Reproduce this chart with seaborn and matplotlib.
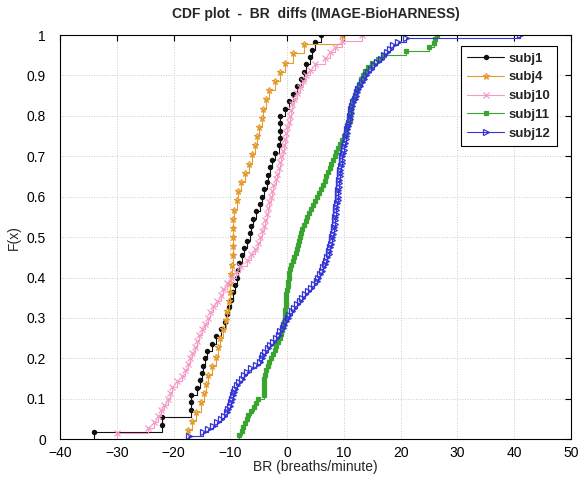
import matplotlib
matplotlib.use("Agg")
import matplotlib.pyplot as plt
import seaborn as sns
import numpy as np
import pandas as pd

# BR differences (IMAGE - BioHARNESS) per subject
subj1 = [-34, -22, -22, -17, -17, -17, -15.8, -15.4, -15.0, -14.8, -14.5, -14.1,
         -13.3, -12.5, -11.7, -11.0, -10.5, -10.2, -9.9, -9.6, -9.2, -8.9, -8.6,
         -8.4, -8.0, -7.5, -7.0, -6.6, -6.3, -6.0, -5.4, -4.8, -4.4, -4.0, -3.6,
         -3.3, -3.0, -2.6, -2.2, -1.5, -1.2, -1.2, -1.2, -1.2, -0.3, 0.4, 1.0,
         1.7, 2.4, 3.0, 3.4, 4.0, 4.4, 5.0, 6.0]
subj4 = [-17.5, -16.8, -16.0, -15.2, -14.7, -14.3, -13.9, -13.3, -12.6, -12.2,
         -11.8, -11.3, -10.8, -10.5, -10.3, -10.1, -10.0, -9.8, -9.7, -9.5, -9.5,
         -9.5, -9.5, -9.5, -9.3, -8.9, -8.6, -8.1, -7.4, -6.7, -6.2, -5.7, -5.3,
         -4.9, -4.5, -4.2, -3.7, -3.1, -2.1, -1.3, -0.3, 1.0, 3.0, 9.6]
subj10 = [-30.0, -24.5, -23.5, -22.8, -22.2, -21.6, -21.0, -20.6, -20.2, -19.3,
          -18.5, -18.0, -17.5, -17.1, -16.7, -16.3, -15.9, -15.5, -15.0, -14.4,
          -13.9, -13.5, -13.1, -12.3, -11.7, -11.2, -10.6, -9.8, -9.0, -8.2,
          -7.0, -6.3, -5.7, -5.1, -4.7, -4.4, -4.0, -3.8, -3.5, -3.3, -3.1,
          -2.9, -2.7, -2.4, -2.0, -1.7, -1.4, -1.2, -1.0, -0.8, -0.6, -0.4,
          -0.2, 0.0, 0.3, 0.5, 0.7, 0.9, 1.3, 1.8, 2.3, 2.8, 3.4, 4.1, 5.0,
          6.6, 7.6, 8.5, 9.6, 13.2]
subj11 = [-8.4, -8.0, -7.7, -7.4, -7.1, -6.8, -6.4, -5.9, -5.5, -5.1, -4.1, -4.1,
          -4.1, -4.1, -4.0, -3.9, -3.7, -3.4, -3.1, -2.8, -2.5, -2.2, -1.9, -1.6,
          -1.3, -1.1, -0.9, -0.7, -0.5, -0.4, -0.35, -0.3, -0.25, -0.2, -0.15,
          -0.1, 0.0, 0.1, 0.2, 0.3, 0.4, 0.5, 0.7, 1.0, 1.3, 1.5, 1.7, 1.9, 2.1,
          2.3, 2.5, 2.7, 3.0, 3.3, 3.6, 3.9, 4.2, 4.5, 4.9, 5.3, 5.6, 6.0, 6.3,
          6.6, 6.9, 7.2, 7.5, 7.8, 8.1, 8.4, 8.7, 9.0, 9.4, 9.7, 10.0, 10.3,
          10.6, 10.8, 11.0, 11.1, 11.2, 11.3, 11.5, 11.7, 11.9, 12.1, 12.3,
          12.6, 13.0, 13.4, 13.8, 14.3, 15.0, 16.0, 17.0, 20.9, 25.0, 25.8,
          26.1, 26.4]
subj12 = [-17.2, -14.8, -13.9, -13.1, -12.4, -11.7, -11.1, -10.6, -10.4, -10.1,
          -9.9, -9.7, -9.5, -9.3, -9.1, -8.8, -8.4, -8.0, -7.6, -7.1, -6.3, -5.5,
          -4.8, -4.5, -4.2, -3.8, -3.4, -3.0, -2.5, -2.0, -1.5, -1.2, -0.8, -0.5,
          -0.2, 0.1, 0.4, 0.8, 1.2, 1.7, 2.2, 2.7, 3.2, 3.7, 4.2, 4.7, 5.2, 5.5,
          5.8, 6.1, 6.4, 6.7, 6.9, 7.1, 7.3, 7.4, 7.6, 7.8, 7.9, 8.0, 8.1, 8.2,
          8.3, 8.4, 8.5, 8.5, 8.6, 8.7, 8.7, 8.8, 8.9, 8.9, 9.0, 9.0, 9.1, 9.2,
          9.2, 9.3, 9.4, 9.4, 9.5, 9.6, 9.6, 9.7, 9.9, 10.0, 10.1, 10.2, 10.3,
          10.4, 10.5, 10.6, 10.8, 10.9, 11.0, 11.1, 11.2, 11.3, 11.5, 11.7, 11.9,
          12.1, 12.3, 12.5, 12.8, 13.2, 13.6, 13.9, 14.3, 14.8, 15.4, 15.9, 16.5,
          17.0, 17.6, 18.2, 18.7, 19.5, 21.0, 41.0]

subjects = ["subj1", "subj4", "subj10", "subj11", "subj12"]
series = [subj1, subj4, subj10, subj11, subj12]
colors = ["#111111", "#E59A2E", "#F49AC8", "#3AA52E", "#3434D8"]
markers = [".", "*", "x", "s", ">"]
msizes = [6, 5, 5, 3.5, 4]
xticks = list(range(-40, 51, 10))
yticks = [0, 0.1, 0.2, 0.3, 0.4, 0.5, 0.6, 0.7, 0.8, 0.9, 1]

df = pd.concat([pd.DataFrame({"subject": s, "diff": v}) for s, v in zip(subjects, series)])

sns.set_style("white")
plt.rcParams['font.family'] = ['Liberation Sans', 'DejaVu Sans']

fig = plt.figure(figsize=(5.82, 4.8), dpi=100)
ax = fig.add_axes([0.103, 0.085, 0.878, 0.842])

for s, c, m, ms in zip(subjects, colors, markers, msizes):
    filled = m in (".", "s")
    sns.ecdfplot(data=df[df.subject == s], x="diff", ax=ax, color=c, label=s,
                 marker=m, markersize=ms, linewidth=0.8,
                 markerfacecolor=c if filled else "none", markeredgewidth=0.9)

ax.set_xlim(-40, 50)
ax.set_ylim(0, 1)
ax.set_xticks(xticks)
ax.set_yticks(yticks)
ax.set_yticklabels([f"{t:g}" for t in yticks])
ax.grid(True, color="#cccccc", linestyle=":", linewidth=0.7)
ax.tick_params(direction="in", length=4, labelsize=10, top=True, right=True,
               colors="black")
ax.tick_params(axis="y", pad=10)
ax.tick_params(axis="x", pad=5)
for sp in ax.spines.values():
    sp.set_color("black")
    sp.set_linewidth(0.8)

ax.set_xlabel("BR (breaths/minute)", fontsize=10, labelpad=0)
ax.set_ylabel("F(x)", fontsize=10, labelpad=4)
ax.set_title("CDF plot  -  BR  diffs (IMAGE-BioHARNESS)", fontsize=10,
             fontweight="bold", pad=12)

leg = ax.legend(loc="upper right", bbox_to_anchor=(0.985, 0.99), fancybox=False,
                edgecolor="black", framealpha=1, fontsize=9.5, handlelength=2.8,
                borderpad=0.5, labelspacing=0.5, handletextpad=0.3)
for t in leg.get_texts():
    t.set_fontweight("bold")
leg.get_frame().set_linewidth(0.8)

fig.savefig("out.png", dpi=100)
